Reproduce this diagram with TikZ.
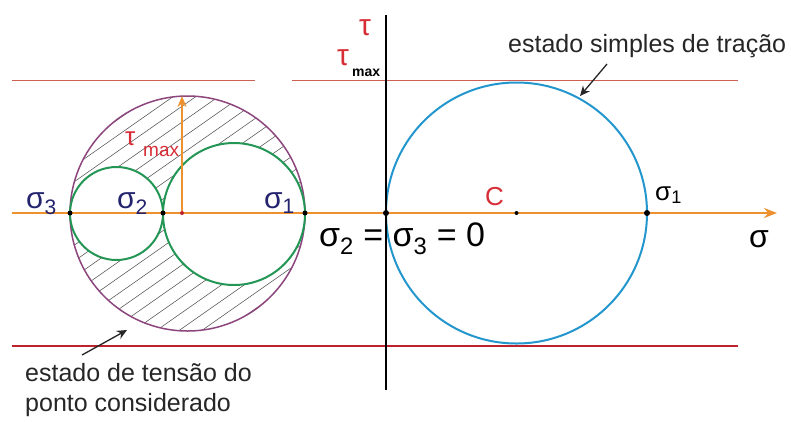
\documentclass[tikz,border=0pt]{standalone}
\usepackage{fontspec}
\setmainfont{Liberation Sans}
\usepackage{xcolor}
\usepackage{tikz}
\usetikzlibrary{positioning,shapes,arrows,arrows.meta,calc}

\definecolor{axisorange}{RGB}{236,145,45}
\definecolor{linered}{RGB}{205,95,85}
\definecolor{darkred}{RGB}{190,35,45}
\definecolor{circpurple}{RGB}{140,70,125}
\definecolor{circgreen}{RGB}{35,150,85}
\definecolor{circblue}{RGB}{35,150,205}
\definecolor{labnavy}{RGB}{35,35,110}
\definecolor{labred}{RGB}{215,45,55}
\newcommand{\sizept}[1]{\fontsize{#1}{#1}\selectfont}

\begin{document}
\begin{tikzpicture}[x=1pt,y=-1pt,
    lab/.style={inner sep=0pt, anchor=base west},
    dot/.style={circle, fill=black, inner sep=0pt, minimum size=5pt},
    hatchline/.style={gray!65!black, line width=0.55pt},
    note/.style={-{Stealth[length=10pt,width=9pt]}, line width=1.3pt, black!85}]
    \useasboundingbox (0,0) rectangle (791,421);

    \coordinate (topl1) at (12,80);
    \coordinate (topl2) at (255,80);
    \coordinate (topr1) at (292,80);
    \coordinate (topr2) at (738,80);
    \coordinate (botl) at (12,346);
    \coordinate (botr) at (738,346);
    \coordinate (axl) at (12,213);
    \coordinate (axr) at (777,213);
    \coordinate (taut) at (386,15);
    \coordinate (taub) at (386,390);
    \coordinate (cen) at (187.5,213.5);
    \coordinate (g2) at (116.5,213.5);
    \coordinate (g1) at (234,214);
    \coordinate (tmtop) at (182,96);

    \draw[linered, line width=0.9pt] (topl1) -- (topl2);
    \draw[linered, line width=0.9pt] (topr1) -- (topr2);
    \draw[darkred, line width=1.6pt] (botl) -- (botr);

    \begin{scope}
        \clip (cen) circle (117.5);
        \foreach \k in {-10,...,10}
            \draw[hatchline, shift={(cen)}, rotate=35] (-140,\k*13) -- (140,\k*13);
    \end{scope}
    \fill[white] (g2) circle (46.5);
    \fill[white] (g1) circle (71);
    \draw[circpurple, line width=1.5pt] (cen) circle (117.5);
    \draw[circgreen, line width=2pt] (g2) circle (46.5);
    \draw[circgreen, line width=2pt] (g1) circle (71);

    \draw[circblue, line width=2pt] (516.5,213) circle (130.5);

    \draw[axisorange, line width=2.5pt, -{Stealth[length=13pt,width=10pt]}] (axl) -- (axr);
    \draw[black, line width=2.4pt] (taut) -- (taub);

    \node[dot] (s3) at (70,213) {};
    \node[dot] (s2) at (163,213) {};
    \node[dot] (s1) at (305,213) {};
    \node[dot, minimum size=6pt] (o) at (386,213) {};
    \node[dot, minimum size=4pt] (c) at (516.5,213) {};
    \node[dot, minimum size=6pt] (t1) at (647,213) {};
    \node[circle, fill=darkred, inner sep=0pt, minimum size=4pt] (cm) at (182,213) {};

    \draw[axisorange, line width=2pt, -{Stealth[length=11pt,width=9pt]}] (cm) -- (tmtop);

    \node[lab, labnavy, font=\sizept{30}] (ls3) at (26,208) {σ\textsubscript{3}};
    \node[lab, labnavy, font=\sizept{30}] (ls2) at (117,208) {σ\textsubscript{2}};
    \node[lab, labnavy, font=\sizept{30}] (ls1) at (264,208) {σ\textsubscript{1}};
    \node[lab, labred, font=\sizept{26}] (ltm) at (125,145) {τ};
    \node[lab, labred, font=\sizept{19}] (ltmx) at (143,156) {max};

    \node[lab, labred, font=\sizept{30}] (ltau) at (359,35) {τ};
    \node[lab, labred, font=\sizept{30}] (ltaum) at (337,65) {τ};
    \node[lab, black, font=\sizept{14}\bfseries] (ltaumx) at (352,76) {max};

    \node[lab, black, font=\sizept{34}] (lzero) at (319,246) {σ\textsubscript{2} = σ\textsubscript{3} = 0};
    \node[lab, labred, font=\sizept{26}] (lc) at (485,205) {C};
    \node[lab, black, font=\sizept{26}] (lt1) at (655,200) {σ\textsubscript{1}};
    \node[lab, black, font=\sizept{32}] (lsig) at (749,247) {σ};

    \node[lab, black!85, font=\sizept{25}] (nsimp) at (508,52) {estado simples de tração};
    \node[lab, black!85, font=\sizept{25}] (nest1) at (25,381) {estado de tensão do};
    \node[lab, black!85, font=\sizept{25}] (nest2) at (25,411) {ponto considerado};
    \coordinate (asimp) at (607,64);
    \coordinate (bsimp) at (580,96);
    \coordinate (aest) at (82,355);
    \coordinate (best) at (127,330);
    \draw[note] (asimp) -- (bsimp);
    \draw[note] (aest) -- (best);
\end{tikzpicture}
\end{document}
